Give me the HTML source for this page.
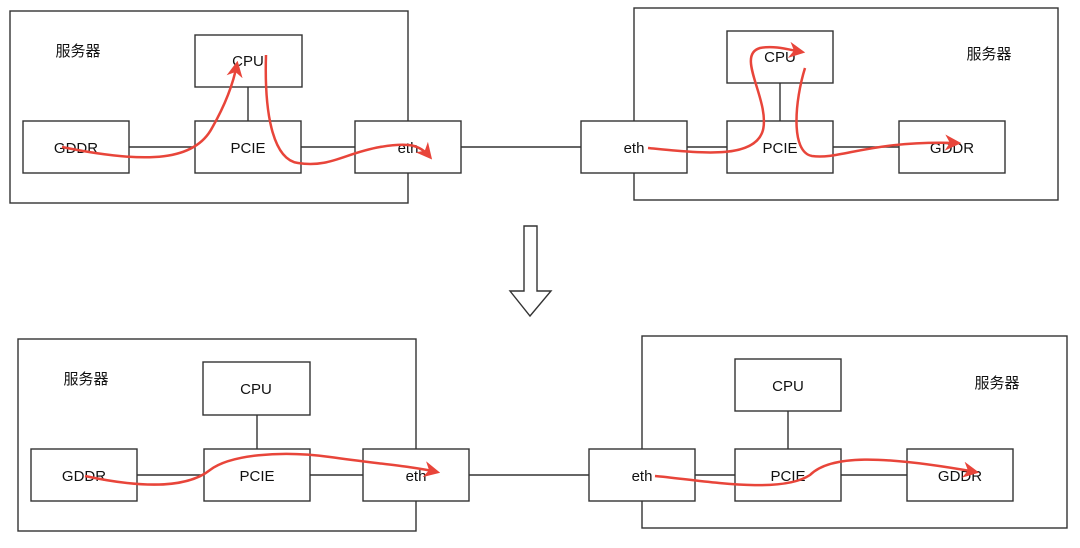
<!DOCTYPE html>
<html><head><meta charset="utf-8"><style>
html,body{margin:0;padding:0;background:#fff;}
svg text{font-family:"Liberation Sans","Noto Sans CJK SC",sans-serif;font-size:15px;fill:#111;}
</style></head><body>
<svg width="1080" height="543" viewBox="0 0 1080 543" xmlns="http://www.w3.org/2000/svg">
<defs>
<marker id="ah" viewBox="0 0 10 10" refX="8" refY="5" markerWidth="6.5" markerHeight="6.5" orient="auto" markerUnits="strokeWidth">
<path d="M0,0 L10,5 L0,10 L3,5 z" fill="#e8453a"/></marker>
</defs>
<g stroke="#333" stroke-width="1.4" fill="#fff">
<rect x="10" y="11" width="398" height="192"/>
<rect x="634" y="8" width="424" height="192"/>
<line x1="461" y1="147" x2="581" y2="147"/>
<line x1="129" y1="147" x2="195" y2="147"/><line x1="301" y1="147" x2="355" y2="147"/>
<line x1="248" y1="87" x2="248" y2="121"/>
<line x1="687" y1="147" x2="727" y2="147"/><line x1="833" y1="147" x2="899" y2="147"/>
<line x1="780" y1="83" x2="780" y2="121"/>
<rect x="195" y="35" width="107" height="52"/>
<rect x="23" y="121" width="106" height="52"/>
<rect x="195" y="121" width="106" height="52"/>
<rect x="355" y="121" width="106" height="52"/>
<rect x="581" y="121" width="106" height="52"/>
<rect x="727" y="31" width="106" height="52"/>
<rect x="727" y="121" width="106" height="52"/>
<rect x="899" y="121" width="106" height="52"/>
<rect x="18" y="339" width="398" height="192"/>
<rect x="642" y="336" width="425" height="192"/>
<line x1="469" y1="475" x2="589" y2="475"/>
<line x1="137" y1="475" x2="204" y2="475"/><line x1="310" y1="475" x2="363" y2="475"/>
<line x1="257" y1="415" x2="257" y2="449"/>
<line x1="695" y1="475" x2="735" y2="475"/><line x1="841" y1="475" x2="907" y2="475"/>
<line x1="788" y1="411" x2="788" y2="449"/>
<rect x="203" y="362" width="107" height="53"/>
<rect x="31" y="449" width="106" height="52"/>
<rect x="204" y="449" width="106" height="52"/>
<rect x="363" y="449" width="106" height="52"/>
<rect x="589" y="449" width="106" height="52"/>
<rect x="735" y="359" width="106" height="52"/>
<rect x="735" y="449" width="106" height="52"/>
<rect x="907" y="449" width="106" height="52"/>
<path d="M524,226 L537,226 L537,291 L551,291 L530,316 L510,291 L524,291 Z"/>
</g>
<g text-anchor="middle">
<text x="78" y="56">服务器</text>
<text x="248" y="66">CPU</text>
<text x="76" y="153">GDDR</text>
<text x="248" y="153">PCIE</text>
<text x="408" y="153">eth</text>
<text x="634" y="153">eth</text>
<text x="780" y="62">CPU</text>
<text x="780" y="153">PCIE</text>
<text x="952" y="153">GDDR</text>
<text x="989" y="59">服务器</text>
<text x="86" y="384">服务器</text>
<text x="256" y="394">CPU</text>
<text x="84" y="481">GDDR</text>
<text x="257" y="481">PCIE</text>
<text x="416" y="481">eth</text>
<text x="642" y="481">eth</text>
<text x="788" y="391">CPU</text>
<text x="788" y="481">PCIE</text>
<text x="960" y="481">GDDR</text>
<text x="997" y="388">服务器</text>
</g>
<g stroke="#e8453a" stroke-width="2.5" fill="none" marker-end="url(#ah)">
<path d="M62,147 C150,165 195,160 212,128 C228,100 234,80 237,64"/>
<path d="M266,55 C264,120 275,160 298,163 C330,168 345,153 380,147 C410,142 420,145 430,157"/>
<path d="M648,148 C700,153 755,160 763,130 C770,100 735,55 760,48 C775,45 790,50 802,52"/>
<path d="M805,68 C795,100 790,152 812,156 C840,160 870,140 958,143"/>
<path d="M85,476 C150,490 190,486 210,470 C230,455 280,450 330,457 C380,464 410,466 437,472"/>
<path d="M655,476 C700,480 780,495 810,475 C830,455 880,455 976,472"/>
</g>
</svg>
</body></html>
